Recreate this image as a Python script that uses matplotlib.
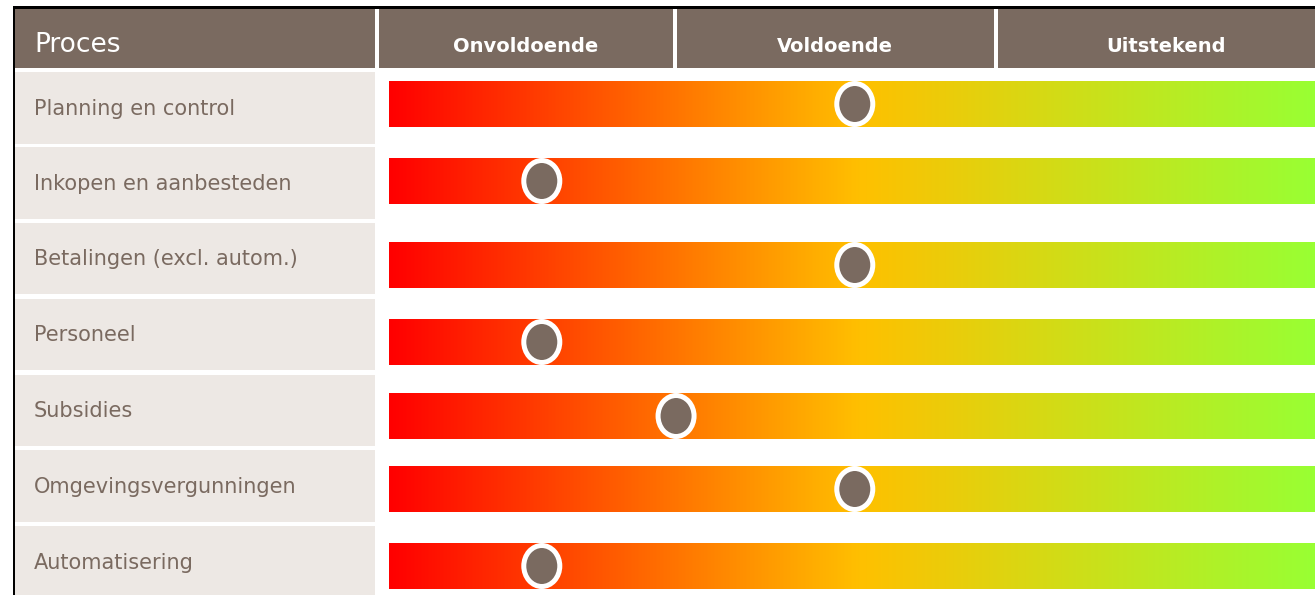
import matplotlib
matplotlib.use("Agg")
import matplotlib.pyplot as plt
import numpy as np
from matplotlib.patches import Rectangle, Ellipse
from matplotlib.colors import LinearSegmentedColormap

# ---- data ----
header_first = "Proces"
levels = ["Onvoldoende", "Voldoende", "Uitstekend"]
processes = ["Planning en control", "Inkopen en aanbesteden", "Betalingen (excl. autom.)",
             "Personeel", "Subsidies", "Omgevingsvergunningen", "Automatisering"]
scores = [50.3, 16.5, 50.3, 16.5, 31.0, 50.3, 16.5]   # position on 0-100 scale

# ---- style / layout ----
BROWN = "#7a6a60"
LIGHT = "#ede8e4"
W, H = 1315, 595
fig = plt.figure(figsize=(W / 100, H / 100), dpi=100)
fig.patch.set_facecolor("white")
ax = fig.add_axes([0, 0, 1, 1])
ax.set_xlim(0, W)
ax.set_ylim(H, 0)
ax.axis("off")

# borders
ax.add_patch(Rectangle((13, 6), W - 13, 2.5, color="black", lw=0))
ax.add_patch(Rectangle((13, 6), 2.5, H - 6, color="black", lw=0))

# header
cols = [(15.5, 375), (379, 673.5), (677.5, 994), (998, W + 5)]
for (x0, x1) in cols:
    ax.add_patch(Rectangle((x0, 9), x1 - x0, 59, color=BROWN, lw=0))
ax.text(34, 45, header_first, color="white", fontsize=19, va="center", ha="left",
        family="DejaVu Sans")
centers = [526, 835, 1166]
for lab, cx in zip(levels, centers):
    ax.text(cx, 46, lab, color="white", fontsize=14, fontweight="bold",
            va="center", ha="center", family="DejaVu Sans")

# rows
row_tops = [72, 147, 222.5, 298.5, 374.5, 450, 526]
row_h = 71.5
bar_tops = [81, 158, 242, 319, 393, 466, 543]
bar_h = 46
for i, name in enumerate(processes):
    t = row_tops[i]
    ax.add_patch(Rectangle((15.5, t), 375 - 15.5, row_h, color=LIGHT, lw=0))
    ax.text(34, t + row_h / 2 + 1, name, color=BROWN, fontsize=15, va="center",
            ha="left", family="DejaVu Sans")

# bar area axes (score scale 0-100)
bx0, bw = 389, 926
bax = fig.add_axes([bx0 / W, 0, bw / W, 1])
bax.axis("off")
cmap = LinearSegmentedColormap.from_list(
    "rag", [(0.0, "#ff0000"), (0.509, "#ffc000"), (1.0, "#99ff33")])
grad = np.linspace(0, 1, 512)[None, :]
for i in range(len(processes)):
    t = bar_tops[i]
    bax.imshow(grad, cmap=cmap, aspect="auto", extent=[0, 100, t + bar_h, t],
               interpolation="bilinear")
for i, s in enumerate(scores):
    cy = bar_tops[i] + bar_h / 2
    bax.add_patch(Ellipse((s, cy), width=36 * 100 / bw, height=41,
                          facecolor=BROWN, edgecolor="white", lw=3.6, zorder=5))
bax.set_xlim(0, 100)
bax.set_ylim(H, 0)

fig.savefig("out.png", dpi=100)
